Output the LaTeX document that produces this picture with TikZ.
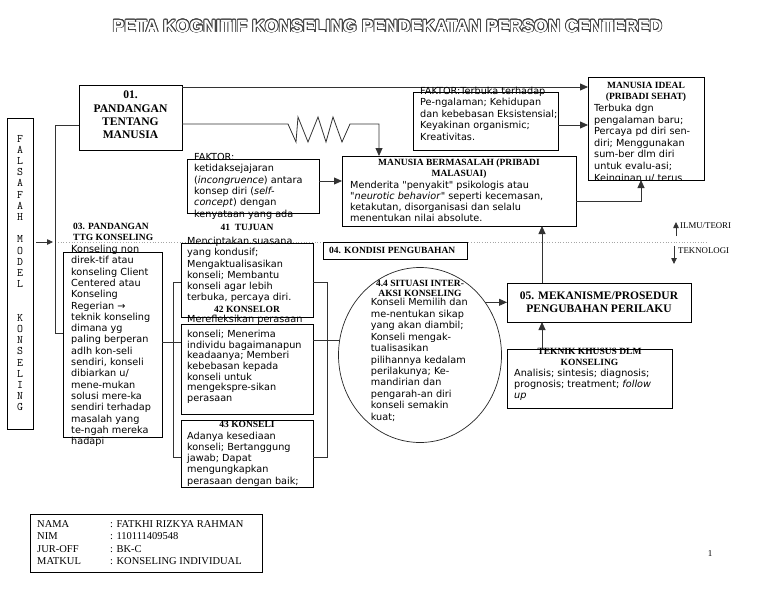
\documentclass[tikz,border=0pt]{standalone}
\usepackage{fontspec}
\setmainfont{Liberation Serif}
\newfontfamily\dv{DejaVu Sans}[ItalicFont={DejaVu Sans Oblique}]
\newfontfamily\lsans{Liberation Sans}
\usepackage[copies]{contour}
\usetikzlibrary{fit,arrows.meta,shapes.geometric,calc}
\newcommand{\lines}[1]{\parbox[t]{260pt}{\raggedright #1}}
\newcommand{\clines}[2]{\parbox[t]{#1}{\centering #2}}
\tikzset{
  box/.style={draw=black, line width=0.8pt, fill=white, inner sep=0pt, outer sep=0pt},
  conn/.style={draw=black!80, line width=0.8pt},
  arr/.style={conn, -{Triangle[length=8pt,width=7pt]}},
  sarr/.style={conn, -{Triangle[length=6pt,width=5.5pt]}},
  body/.style={inner sep=0pt, anchor=base west, font=\dv\fontsize{9.7}{11.3}\selectfont},
  head/.style={inner sep=0pt, anchor=base, font=\bfseries\fontsize{9.5}{11}\selectfont},
  bighead/.style={inner sep=0pt, anchor=base, font=\bfseries\fontsize{11.5}{13.3}\selectfont},
}
\begin{document}
\begin{tikzpicture}[x=1pt,y=-1pt]
\useasboundingbox[fill=white] (0,0) rectangle (768,594);

% title
\contourlength{0.75pt}\contournumber{16}
\node[inner sep=0pt, text=white, font=\lsans\bfseries\fontsize{17.6}{20}\selectfont] (title) at (387.5,26.5) {\contour{black!75}{PETA KOGNITIF KONSELING PENDEKATAN PERSON CENTERED}};

% dotted divider
\coordinate (dotA) at (58,242);
\coordinate (dotB) at (708,242);
\draw[gray!70, line width=0.7pt, dotted] (dotA) -- (dotB);

% boxes
\node[box, fit={(7,118) (33,429)}] (falsafah) {};
\node[box, fit={(79,85) (182,150)}] (b01) {};
\node[box, fit={(187,159) (319,213)}] (fak1) {};
\node[box, fit={(342,156) (576,226)}] (mb) {};
\node[box, fit={(413,92) (558,150)}] (fak2) {};
\node[box, fit={(588,77) (704,180)}] (ideal) {};
\node[box, fit={(63,252) (162,437)}] (b03) {};
\node[box, fit={(181,243) (313,317)}] (b41) {};
\node[box, fit={(181,324) (313,414)}] (b42) {};
\node[box, fit={(181,420) (313,487)}] (b43) {};
\node[box, fit={(323,242) (467,259)}] (b04) {};
\node[draw=black!85, line width=0.7pt, fill=white, ellipse, inner sep=0pt, outer sep=0pt, minimum width=163, minimum height=175] (circ) at (420,355) {};
\node[box, fit={(507,283) (691,322)}] (b05) {};
\node[box, fit={(507,349) (672,408)}] (tek) {};
\node[box, fit={(30,514) (262,572)}] (info) {};

% connectors
\coordinate (h03tip) at (53,242);
\draw[sarr] ($(falsafah.east |- h03tip)+(3,0)$) -- (h03tip);
\draw[conn] (b01.west |- 0,125) -- (55,125) -- (55,333) -- (b03.west |- 0,333);
\draw[arr] (b01.east |- 0,87) -- (ideal.west |- 0,87);
\draw[arr] (b01.east |- 0,124) -- (288,124) -- (296,142) -- (298,117) -- (308,142) -- (318,117) -- (326,142) -- (333,117) -- (342,142) -- (350,124) -- (379,124) -- (mb.north -| 379,0);
\draw[arr] (fak1.east |- 0,181) -- (mb.west |- 0,181);
\draw[arr] (fak2.east |- 0,125) -- (ideal.west |- 0,125);
\draw[arr] (mb.east |- 0,201) -- (641,201) -- (ideal.south -| 641,0);
\draw[arr] (b05.north -| 542,0) -- (mb.south -| 542,0);
\draw[arr] (tek.north -| 542,0) -- (b05.south -| 542,0);
\draw[arr] (circ.39.6) -- (circ.39.6 -| b05.west);
\draw[conn] (b03.east |- 0,342) -- (b42.west |- 0,342);
\draw[conn] (b41.west |- 0,282) -- (173,282) -- (173,457) -- (b43.west |- 0,457);
\draw[conn] (b41.east |- 0,282) -- (327,282) -- (327,457) -- (b43.east |- 0,457);
\draw[conn] (b42.east |- circ.170) -- (circ.170);
\coordinate (ilmuA) at (676,236);
\coordinate (ilmuB) at (676,222);
\draw[sarr] (ilmuA) -- (ilmuB);
\coordinate (tekA) at (674,246);
\coordinate (tekB) at (674,264);
\draw[sarr] (tekA) -- (tekB);

% texts
\node[inner sep=0pt, anchor=base, font=\ttfamily\fontsize{11.5}{11.2}\selectfont] (tFal) at (20,142)
  {\clines{24pt}{F\\A\\L\\S\\A\\F\\A\\H\\[11.2pt]M\\O\\D\\E\\L\\[22.4pt]K\\O\\N\\S\\E\\L\\I\\N\\G}};

\node[inner sep=0pt, anchor=base, font=\bfseries\fontsize{11.6}{13.3}\selectfont] (t01) at (130.5,98.8)
  {\clines{100pt}{01.\\PANDANGAN\\TENTANG\\MANUSIA}};

\node[body] (tf1) at (194,160.5) {\lines{FAKTOR:\\ketidaksejajaran\\(\textit{incongruence}) antara\\konsep diri (\textit{self-}\\\textit{concept}) dengan\\kenyataan yang ada}};

\node[head] (hmb) at (459,165.5) {\clines{230pt}{MANUSIA BERMASALAH (PRIBADI\\MALASUAI)}};
\node[body] (tmb) at (350,188) {\lines{Menderita "penyakit" psikologis atau\\"\textit{neurotic behavior}" seperti kecemasan,\\ketakutan, disorganisasi dan selalu\\menentukan nilai absolute.}};

\node[body, font=\dv\fontsize{9.7}{11.5}\selectfont] (tf2) at (420,94) {\lines{FAKTOR:Terbuka terhadap\\Pe-ngalaman; Kehidupan\\dan kebebasan Eksistensial;\\Keyakinan organismic;\\Kreativitas.}};

\begin{scope}
\clip (588.4,77.4) rectangle (703.6,179.6);
\node[head] (hid) at (646,88.3) {\clines{112pt}{MANUSIA IDEAL\\(PRIBADI SEHAT)}};
\node[body, font=\dv\fontsize{9.7}{11.6}\selectfont] (tid) at (594,111.5) {\lines{Terbuka dgn\\pengalaman baru;\\Percaya pd diri sen-\\diri; Menggunakan\\sum-ber dlm diri\\untuk evalu-asi;\\Keinginan u/ terus}};
\end{scope}

\node[head, anchor=base west] (h03) at (73,229.5) {\lines{03. PANDANGAN\\TTG KONSELING}};
\node[body] (t03) at (71,252.5) {\lines{Konseling non\\direk-tif atau\\konseling Client\\Centered atau\\Konseling\\Regerian \textrightarrow\\teknik konseling\\dimana yg\\paling berperan\\adlh kon-seli\\sendiri, konseli\\dibiarkan u/\\mene-mukan\\solusi mere-ka\\sendiri terhadap\\masalah yang\\te-ngah mereka\\hadapi}};

\node[head] (h41) at (247,230.5) {41\ \ TUJUAN};
\node[body, font=\dv\fontsize{9.7}{11.2}\selectfont] (t41) at (187,244.7) {\lines{Menciptakan suasana\\yang kondusif;\\Mengaktualisasikan\\konseli; Membantu\\konseli agar lebih\\terbuka, percaya diri.}};

\node[head] (h42) at (247,312.5) {42 KONSELOR};
\node[body, font=\dv\fontsize{9.7}{10.7}\selectfont] (t42) at (187,322) {\lines{Merefleksikan perasaan\\[4.6pt]konseli; Menerima\\individu bagaimanapun\\keadaanya; Memberi\\kebebasan kepada\\konseli untuk\\mengekspre-sikan\\perasaan}};

\node[head] (h43) at (247,427.3) {43 KONSELI};
\node[body, font=\dv\fontsize{9.7}{11.25}\selectfont] (t43) at (187,439) {\lines{Adanya kesediaan\\konseli; Bertanggung\\jawab; Dapat\\mengungkapkan\\perasaan dengan baik;}};

\node[head, anchor=base west] (t04) at (329,253.3) {04. KONDISI PENGUBAHAN};

\node[head, font=\bfseries\fontsize{9.5}{10}\selectfont] (hcirc) at (420,286) {\clines{120pt}{4.4 SITUASI INTER-\\AKSI KONSELING}};
\node[body, font=\dv\fontsize{9.7}{11.46}\selectfont] (tcirc) at (370.7,305.7) {\lines{Konseli Memilih dan\\me-nentukan sikap\\yang akan diambil;\\Konseli mengak-\\tualisasikan\\pilihannya kedalam\\perilakunya; Ke-\\mandirian dan\\pengarah-an diri\\konseli semakin\\kuat;}};

\node[bighead] (t05) at (599,299) {\clines{180pt}{05. MEKANISME/PROSEDUR\\PENGUBAHAN PERILAKU}};

\node[head] (htek) at (589.5,354) {\clines{160pt}{TEKNIK KHUSUS DLM\\KONSELING}};
\node[body, font=\dv\fontsize{9.7}{11.2}\selectfont] (ttek) at (514,376.3) {\lines{Analisis; sintesis; diagnosis;\\prognosis; treatment; \textit{follow}\\\textit{up}}};

\node[inner sep=0pt, anchor=base west, font=\fontsize{8.8}{10}\selectfont] (tilmu) at (680,228.5) {ILMU/TEORI};
\node[inner sep=0pt, anchor=base west, font=\fontsize{8.8}{10}\selectfont] (ttekno) at (678,253) {TEKNOLOGI};

\node[inner sep=0pt, anchor=base west, font=\fontsize{10.5}{12.4}\selectfont] (tlab) at (37,527.5) {\lines{NAMA\\NIM\\JUR-OFF\\MATKUL}};
\node[inner sep=0pt, anchor=base west, font=\fontsize{10.5}{12.4}\selectfont] (tval) at (110,527.5) {\lines{: FATKHI RIZKYA RAHMAN\\: 110111409548\\: BK-C\\: KONSELING INDIVIDUAL}};

\node[inner sep=0pt, anchor=base, font=\fontsize{9}{10}\selectfont] (pnum) at (710,556) {1};
\end{tikzpicture}
\end{document}
